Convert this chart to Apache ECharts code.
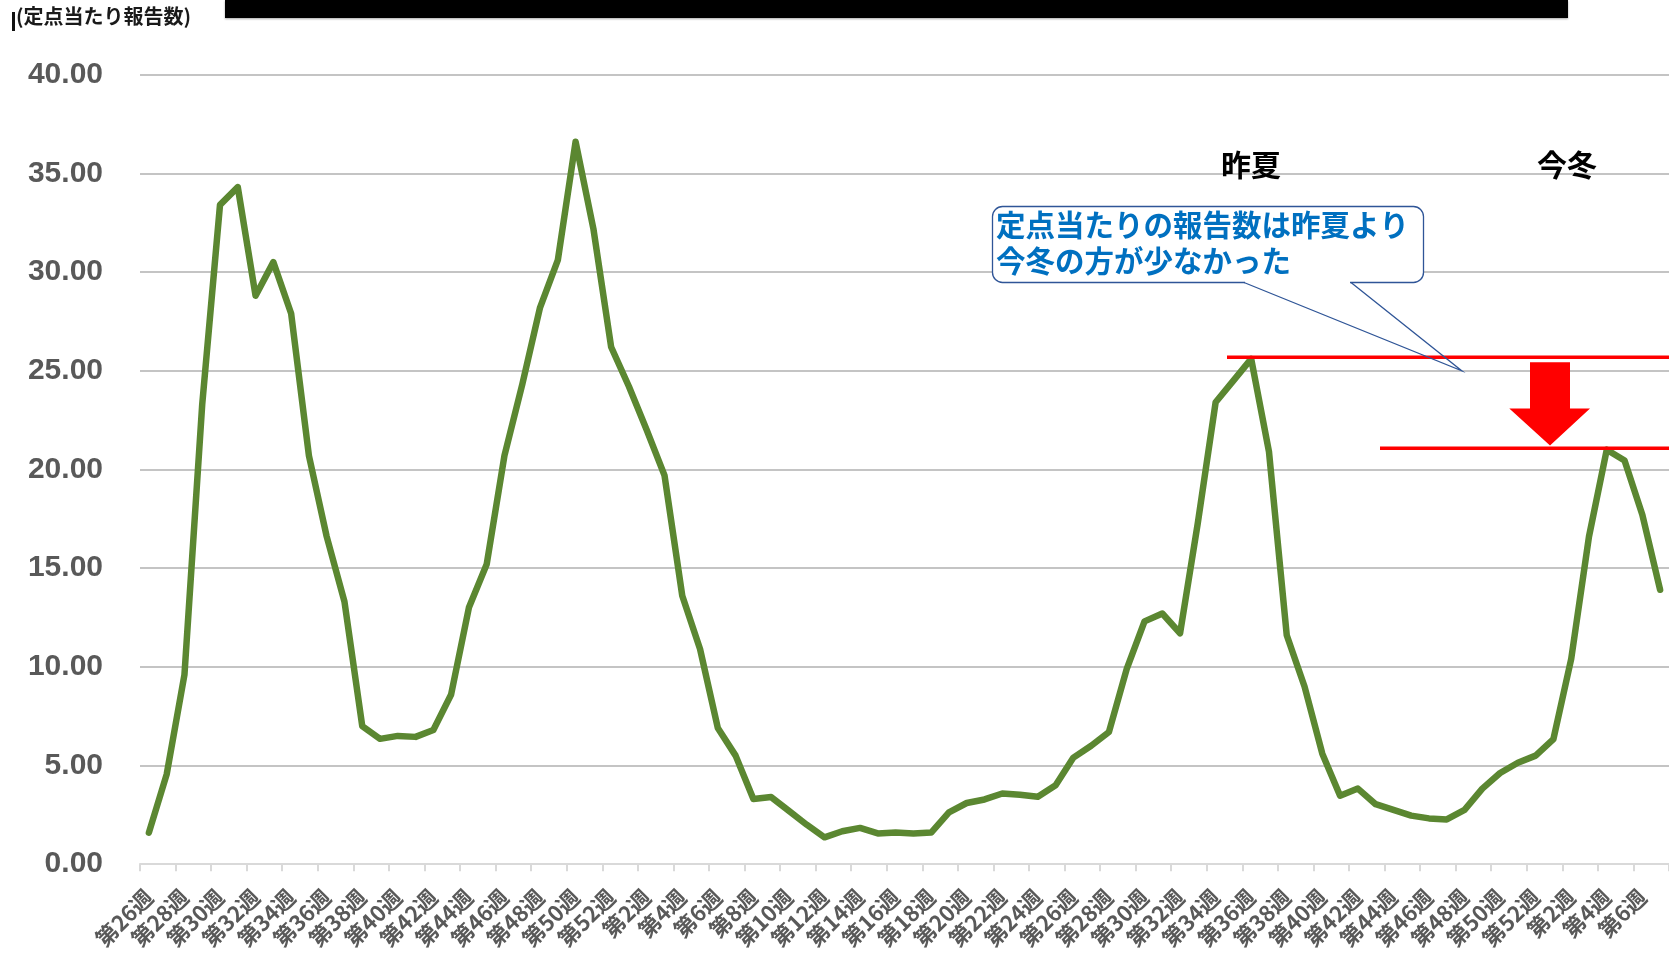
<!DOCTYPE html>
<html lang="ja">
<head>
<meta charset="utf-8">
<title>定点当たり報告数の推移</title>
<script src="https://cdn.jsdelivr.net/npm/echarts@6/dist/echarts.min.js"></script>
<style>
  html, body { margin: 0; padding: 0; background: #ffffff; }
  #chart { width: 1669px; height: 956px; }
</style>
</head>
<body>
<div id="chart"></div>
<script>
// Week numbers for each season on the category axis
const weeksSeason1 = [26, 27, 28, 29, 30, 31, 32, 33, 34, 35, 36, 37, 38, 39, 40,
  41, 42, 43, 44, 45, 46, 47, 48, 49, 50, 51, 52];
const weeksSeason2 = [1, 2, 3, 4, 5, 6, 7, 8, 9, 10, 11, 12, 13, 14, 15, 16, 17, 18,
  19, 20, 21, 22, 23, 24, 25, 26, 27, 28, 29, 30, 31, 32, 33, 34, 35, 36, 37, 38, 39,
  40, 41, 42, 43, 44, 45, 46, 47, 48, 49, 50, 51, 52];
const weeksSeason3 = [1, 2, 3, 4, 5, 6, 7];

// Reports per sentinel site, week by week
const valuesSeason1 = [1.6, 4.55, 9.6, 23.3, 33.4, 34.3, 28.8, 30.5, 27.9, 20.7,
  16.6, 13.3, 7.0, 6.35, 6.5, 6.45, 6.8, 8.6, 13.0, 15.2, 20.7, 24.3, 28.2, 30.6,
  36.6, 32.2, 26.2];
const valuesSeason2 = [24.2, 22.0, 19.7, 13.6, 10.9, 6.9, 5.5, 3.3, 3.4, 2.7, 2.0,
  1.36, 1.67, 1.84, 1.56, 1.6, 1.56, 1.6, 2.63, 3.1, 3.28, 3.58, 3.52, 3.42, 4.0,
  5.4, 6.0, 6.7, 9.9, 12.3, 12.7, 11.7, 17.3, 23.4, 24.5, 25.6, 20.9, 11.6, 9.0,
  5.6, 3.47, 3.83, 3.04, 2.75, 2.46, 2.32, 2.27, 2.75, 3.83, 4.62, 5.14, 5.5];
const valuesSeason3 = [6.34, 10.4, 16.6, 21.0, 20.45, 17.7, 13.9];

// Value-axis ticks
const yTicks = [0, 5, 10, 15, 20, 25, 30, 35, 40];

const categories = [...weeksSeason1, ...weeksSeason2, ...weeksSeason3].map(w => '第' + w + '週');
const values = [...valuesSeason1, ...valuesSeason2, ...valuesSeason3];

// Peaks compared by the red guide lines: last summer vs. this winter
const summerStart = weeksSeason1.length + 33;          // 第34週 of the 2nd season
const summerEnd = weeksSeason1.length + 44;
const summerPeak = Math.max(...values.slice(summerStart, summerEnd));
const winterStart = weeksSeason1.length + weeksSeason2.length;
const winterPeak = Math.max(...values.slice(winterStart));

const chart = echarts.init(document.getElementById('chart'), null, { renderer: 'canvas' });

const option = {
  animation: false,
  backgroundColor: '#ffffff',
  grid: { left: 140, top: 74.6, width: 1535, height: 789.6, containLabel: false },
  xAxis: {
    type: 'category',
    data: categories,
    boundaryGap: true,
    axisLine: { show: true, lineStyle: { color: '#d9d9d9', width: 2 } },
    axisTick: { show: true, interval: 1, length: 7, lineStyle: { color: '#d9d9d9', width: 2 } },
    axisLabel: {
      interval: 1,
      rotate: 45,
      margin: 29,
      color: '#595959',
      fontSize: 22,
      fontWeight: 'bold',
      fontFamily: 'Noto Sans CJK JP'
    },
    splitLine: { show: false }
  },
  yAxis: {
    type: 'value',
    min: yTicks[0],
    max: yTicks[yTicks.length - 1],
    interval: yTicks[1] - yTicks[0],
    axisLine: { show: false },
    axisTick: { show: false },
    axisLabel: {
      margin: 37,
      color: '#595959',
      fontSize: 30,
      fontWeight: 'bold',
      fontFamily: 'Liberation Sans',
      formatter: v => v.toFixed(2)
    },
    splitLine: { show: true, lineStyle: { color: '#c4c4c4', width: 2 } }
  },
  series: [{
    type: 'line',
    data: values,
    symbol: 'none',
    smooth: false,
    lineStyle: { color: '#5b8731', width: 6.5, join: 'round', cap: 'round' },
    z: 3
  }],
  graphic: [
    // black banner at the top
    { type: 'rect', z: 10, shape: { x: 225, y: 0, width: 1343, height: 18 },
      style: { fill: '#000000', shadowColor: 'rgba(0,0,0,0.35)', shadowBlur: 2, shadowOffsetY: 1 } },
    // small vertical bar before the axis title
    { type: 'rect', z: 10, shape: { x: 12, y: 12, width: 3, height: 19 }, style: { fill: '#111111' } },
    // value axis title
    { type: 'text', z: 10, x: 16, y: 16,
      style: { text: '(定点当たり報告数)', fill: '#1a1a1a', font: 'bold 20px "Noto Sans CJK JP"',
        verticalAlign: 'middle' } },
    // season labels
    { type: 'text', z: 10, x: 1251, y: 165,
      style: { text: '昨夏', fill: '#000000', font: 'bold 30px "Noto Sans CJK JP"',
        align: 'center', verticalAlign: 'middle' } },
    { type: 'text', z: 10, x: 1567, y: 165,
      style: { text: '今冬', fill: '#000000', font: 'bold 30px "Noto Sans CJK JP"',
        align: 'center', verticalAlign: 'middle' } },
    // callout box
    { type: 'rect', z: 10, shape: { x: 992.5, y: 206.5, width: 431, height: 76, r: 10 },
      style: { fill: '#ffffff', stroke: '#2f5597', lineWidth: 1.3 } },
    { type: 'rect', z: 11, shape: { x: 1245, y: 281, width: 105, height: 3 },
      style: { fill: '#ffffff' } },
    { type: 'polyline', z: 11, shape: { points: [[1244, 282.5], [1461.7, 370.8], [1351, 282.5]] },
      style: { stroke: '#2f5597', lineWidth: 1.3, fill: null } },
    { type: 'text', z: 12, x: 996, y: 225,
      style: { text: '定点当たりの報告数は昨夏より', fill: '#0070c0',
        font: 'bold 29.5px "Noto Sans CJK JP"', verticalAlign: 'middle' } },
    { type: 'text', z: 12, x: 996, y: 261,
      style: { text: '今冬の方が少なかった', fill: '#0070c0',
        font: 'bold 29.5px "Noto Sans CJK JP"', verticalAlign: 'middle' } },
    // downward arrow between the two peaks
    { type: 'polygon', z: 10,
      shape: { points: [[1530, 362.3], [1570, 362.3], [1570, 408.6], [1590, 408.6],
        [1550, 445.4], [1509.3, 408.6], [1530, 408.6]] },
      style: { fill: '#ff0000' } }
  ]
};

chart.setOption(option);

// Red guide lines at the two peak levels, placed through the value axis
const summerY = chart.convertToPixel({ yAxisIndex: 0 }, summerPeak) - 1.5;
const winterY = chart.convertToPixel({ yAxisIndex: 0 }, winterPeak) - 1.5;
chart.setOption({
  graphic: [
    { id: 'summerLine', type: 'line', z: 9,
      shape: { x1: 1227, y1: summerY, x2: 1669, y2: summerY },
      style: { stroke: '#ff0000', lineWidth: 3.5 } },
    { id: 'winterLine', type: 'line', z: 9,
      shape: { x1: 1380, y1: winterY, x2: 1669, y2: winterY },
      style: { stroke: '#ff0000', lineWidth: 3.5 } }
  ]
});
</script>
</body>
</html>
